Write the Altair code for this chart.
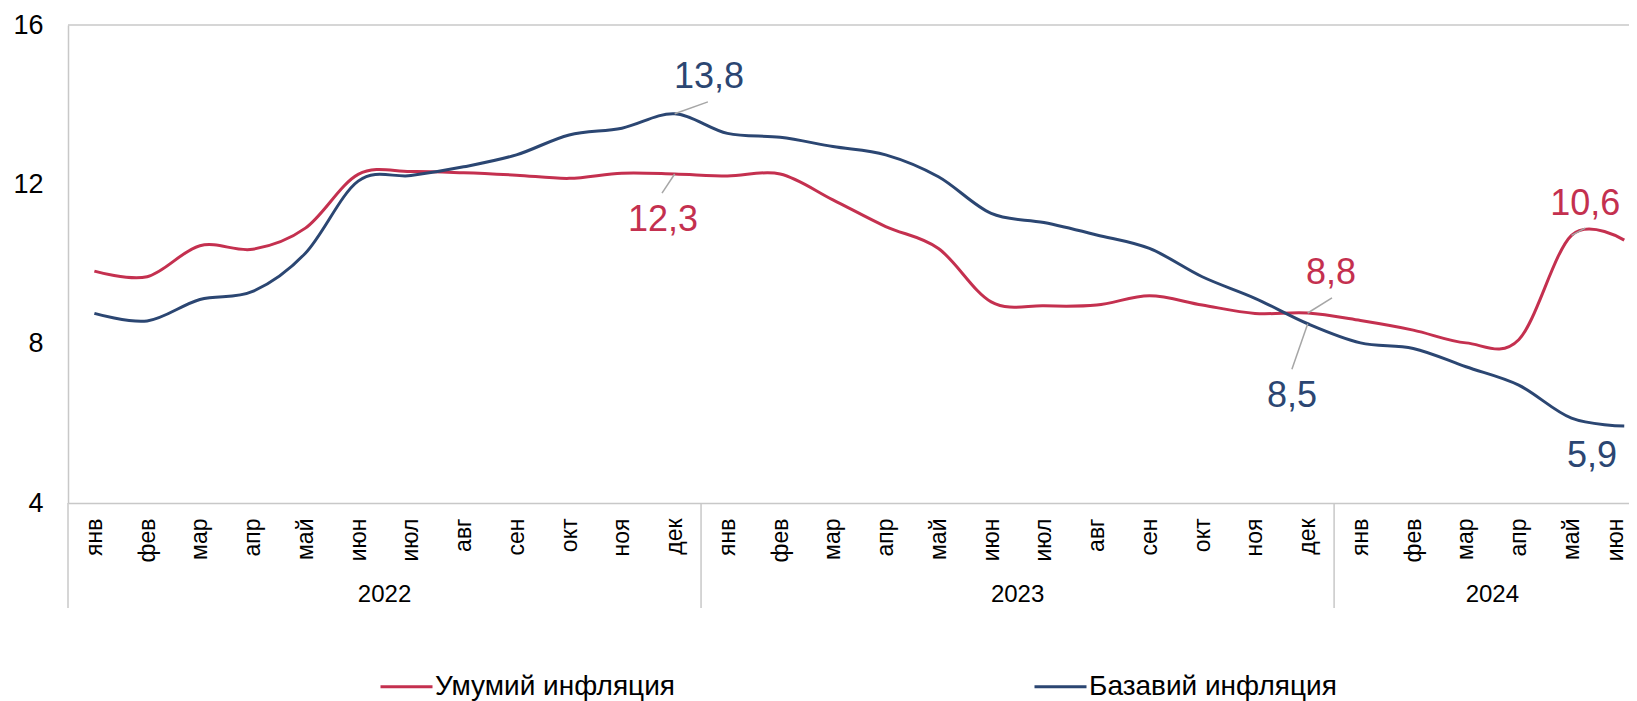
import json
import altair as alt
import pandas as pd

# ---- data ----
months = ["янв", "фев", "мар", "апр", "май", "июн", "июл", "авг", "сен", "окт", "ноя", "дек"]
years = ["2022", "2023", "2024"]
series_names = ["Умумий инфляция", "Базавий инфляция"]

headline = [9.82, 9.68, 10.46, 10.37, 10.90, 12.25, 12.32, 12.29, 12.23, 12.15, 12.28, 12.26,
            12.21, 12.26, 11.61, 10.94, 10.39, 9.05, 8.95, 8.97, 9.20, 8.97, 8.76, 8.77,
            8.58, 8.34, 8.02, 8.10, 10.72, 10.60]
core = [8.76, 8.57, 9.11, 9.31, 10.27, 12.08, 12.22, 12.44, 12.74, 13.24, 13.41, 13.77,
        13.28, 13.18, 12.95, 12.74, 12.19, 11.27, 11.04, 10.73, 10.39, 9.68, 9.14, 8.50,
        8.02, 7.88, 7.42, 6.96, 6.13, 5.93]

y_ticks = [4, 8, 12, 16]
colors = ["#C4304F", "#2B4672"]

# annotations: label, series index, point month index
ann_text = ["13,8", "12,3", "8,8", "8,5", "10,6", "5,9"]
ann_series = [1, 0, 0, 1, 0, 1]
ann_point = [11, 11, 23, 23, 28, 29]

# ---- layout (kept apart from the data) ----
FONT = "Liberation Sans"
W, H = 1561, 478
X_DOMAIN = [-0.5, 29.09]
ann_text_x = [11.65, 10.78, 23.44, 22.70, 28.26, 28.39]
ann_text_y = [14.70, 11.10, 9.77, 6.69, 11.51, 5.18]
lead_end_x = [11.63, 10.76, 23.46, 22.70, 28.26]
lead_end_y = [14.07, 11.78, 9.15, 7.36, 10.90]

n = len(headline)
rows = []
for i in range(n):
    rows.append({"idx": i, "series": series_names[0], "value": headline[i]})
    rows.append({"idx": i, "series": series_names[1], "value": core[i]})
df = pd.DataFrame(rows)

series_vals = [headline, core]
ann_df = pd.DataFrame({
    "label": ann_text,
    "tx": ann_text_x,
    "ty": ann_text_y,
    "color": [colors[s] for s in ann_series],
})
lead_df = pd.DataFrame({
    "x1": ann_point[:5],
    "y1": [series_vals[ann_series[k]][ann_point[k]] for k in range(5)],
    "x2": lead_end_x,
    "y2": lead_end_y,
})

year_df = pd.DataFrame({"year": years, "xc": [5.5, 17.5, 26.5]})
sep_df = pd.DataFrame({"sep": [-0.5, 11.5, 23.5]})
top_df = pd.DataFrame({"top": [y_ticks[-1]]})

x_scale = alt.Scale(domain=X_DOMAIN, nice=False, zero=False)
y_scale = alt.Scale(domain=[y_ticks[0], y_ticks[-1]], nice=False, zero=False)

labels_js = json.dumps(months, ensure_ascii=False)

x_axis = alt.Axis(
    values=list(range(n)),
    labelExpr=f"{labels_js}[datum.value % 12]",
    labelAngle=270, labelAlign="right", labelBaseline="middle",
    labelPadding=15, ticks=False, grid=False, title=None,
    labelFontSize=23, labelFont=FONT, labelColor="#000000",
    labelOverlap=False, labelFlush=False, labelBound=False,
    labelOffset={"condition": {"test": f"datum.value === {n - 1}", "value": -9}, "value": 0},
    domainColor="#C8C8C8", domainWidth=1.5,
)
y_axis = alt.Axis(
    values=y_ticks, ticks=False, grid=False, title=None,
    labelFontSize=27, labelFont=FONT, labelColor="#000000",
    labelPadding=25, labelFlush=False,
    domainColor="#C8C8C8", domainWidth=1.5,
)

lines = alt.Chart(df).mark_line(strokeWidth=3, interpolate="cardinal").encode(
    x=alt.X("idx:Q", scale=x_scale, axis=x_axis),
    y=alt.Y("value:Q", scale=y_scale, axis=y_axis),
    color=alt.Color(
        "series:N",
        scale=alt.Scale(domain=series_names, range=colors),
        sort=series_names,
        legend=alt.Legend(
            orient="none", legendX=311, legendY=634, direction="horizontal",
            title=None, symbolType="stroke", symbolSize=2704, symbolStrokeWidth=3,
            labelFontSize=28, labelFont=FONT, labelColor="#000000",
            columnPadding=353, labelOffset=1, padding=0, labelLimit=400,
        ),
    ),
)

top_rule = alt.Chart(top_df).mark_rule(color="#C8C8C8", strokeWidth=1.5).encode(
    y=alt.Y("top:Q", scale=y_scale), x=alt.value(0), x2=alt.value(W)
)

seps = alt.Chart(sep_df).mark_rule(color="#C8C8C8", strokeWidth=1.5).encode(
    x=alt.X("sep:Q", scale=x_scale), y=alt.value(H), y2=alt.value(H + 105)
)

year_text = alt.Chart(year_df).mark_text(
    font=FONT, fontSize=24, color="#000000", baseline="middle", align="center"
).encode(x=alt.X("xc:Q", scale=x_scale), y=alt.value(H + 92), text="year:N")

leaders = alt.Chart(lead_df).mark_rule(color="#A6A6A6", strokeWidth=1.5).encode(
    x=alt.X("x1:Q", scale=x_scale), y=alt.Y("y1:Q", scale=y_scale),
    x2="x2:Q", y2="y2:Q",
)

ann = alt.Chart(ann_df).mark_text(
    font=FONT, fontSize=36, baseline="middle", align="center"
).encode(
    x=alt.X("tx:Q", scale=x_scale), y=alt.Y("ty:Q", scale=y_scale),
    text="label:N", color=alt.Color("color:N", scale=None),
)

chart = alt.layer(top_rule, seps, year_text, lines, leaders, ann).properties(
    width=W, height=H,
    autosize=alt.AutoSizeParams(type="none"),
    padding={"left": 60, "top": 17, "right": 0, "bottom": 200},
    background="#FFFFFF",
).configure_view(stroke=None)

chart.save("out.html", embed_options={"renderer": "svg", "actions": False})
